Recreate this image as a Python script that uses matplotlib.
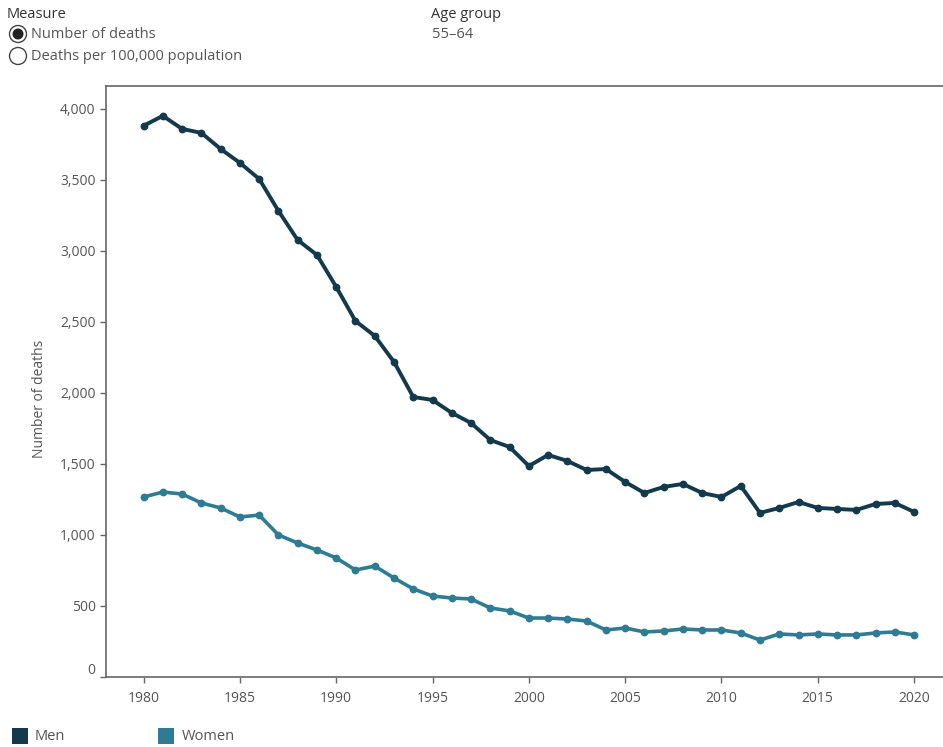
import matplotlib
matplotlib.use("Agg")
import matplotlib.pyplot as plt
import matplotlib.transforms as mtransforms
from matplotlib.patches import Circle, Rectangle
from matplotlib.ticker import FuncFormatter

plt.rcParams['font.family'] = ['Open Sans', 'DejaVu Sans']

years = list(range(1980, 2021))
men = [3880, 3950, 3858, 3830, 3717, 3619, 3506, 3281, 3076, 2971,
       2746, 2506, 2401, 2218, 1971, 1950, 1859, 1788, 1668, 1619,
       1485, 1563, 1521, 1457, 1464, 1373, 1295, 1338, 1359, 1295,
       1267, 1345, 1155, 1190, 1232, 1190, 1183, 1176, 1218, 1225, 1162]
women = [1267, 1302, 1288, 1225, 1190, 1126, 1140, 1000, 943, 894,
         838, 753, 781, 697, 620, 570, 556, 549, 486, 465,
         415, 415, 408, 394, 331, 345, 317, 324, 338, 331,
         331, 310, 260, 303, 296, 303, 296, 296, 310, 317, 296]
y_ticks = [0, 500, 1000, 1500, 2000, 2500, 3000, 3500, 4000]
x_ticks = [1980, 1985, 1990, 1995, 2000, 2005, 2010, 2015, 2020]

men_color = '#123a4c'
women_color = '#2e7c94'
text_color = '#555555'

W, H = 943, 747
fig = plt.figure(figsize=(W / 100, H / 100), dpi=100)
ax = fig.add_axes([106 / W, (H - 677) / H, (W - 106) / W, (677 - 86) / H])

ax.plot(years, men, color=men_color, lw=2.8, marker='o', ms=4.6, zorder=3)
ax.plot(years, women, color=women_color, lw=2.6, marker='o', ms=4.6, zorder=3)

ax.set_xlim(1978.05, 2021.5)
ax.set_ylim(0, 4160)
ax.set_yticks(y_ticks)
ax.set_xticks(x_ticks)
ax.yaxis.set_major_formatter(FuncFormatter(lambda v, p: f"{int(v):,}"))
ax.tick_params(axis='both', colors='#666666', labelcolor=text_color, labelsize=10,
               length=4, width=1)
ax.tick_params(axis='x', pad=6)
for s in ['left', 'bottom', 'top']:
    ax.spines[s].set_color('#666666')
    ax.spines[s].set_linewidth(1.2)
ax.spines['right'].set_visible(False)
ax.set_ylabel('Number of deaths', color=text_color, fontsize=10)
ax.yaxis.set_label_coords(-0.071, 0.47)

# shift the "0" label up, as in the reference
fig.canvas.draw()
zero_lbl = ax.get_yticklabels()[0]
zero_lbl.set_transform(zero_lbl.get_transform() +
                       mtransforms.ScaledTranslation(0, 9 / 100, fig.dpi_scale_trans))

# overlay for controls and legend
ov = fig.add_axes([0, 0, 1, 1], zorder=-1)
ov.set_xlim(0, W)
ov.set_ylim(H, 0)
ov.axis('off')

fs = 10.5
ov.text(7, 15, 'Measure', fontsize=fs, color='#333333', va='center', ha='left')
ov.add_patch(Circle((18, 34), 8.5, facecolor='white', edgecolor='#444444', lw=1))
ov.add_patch(Circle((18, 34), 5.5, facecolor='#222222', edgecolor='none'))
ov.text(31, 34, 'Number of deaths', fontsize=fs, color=text_color, va='center', ha='left')
ov.add_patch(Circle((18, 56), 8.5, facecolor='white', edgecolor='#444444', lw=1))
ov.text(31, 56, 'Deaths per 100,000 population', fontsize=fs, color=text_color,
        va='center', ha='left')

ov.text(431, 15, 'Age group', fontsize=fs, color='#333333', va='center', ha='left')
ov.text(432, 34, '55\u201364', fontsize=fs, color=text_color, va='center', ha='left')

ov.add_patch(Rectangle((12, 728), 16, 16, facecolor=men_color, edgecolor='none'))
ov.text(35, 737, 'Men', fontsize=fs, color=text_color, va='center', ha='left')
ov.add_patch(Rectangle((158, 728), 16, 16, facecolor=women_color, edgecolor='none'))
ov.text(182, 737, 'Women', fontsize=fs, color=text_color, va='center', ha='left')

fig.savefig('out.png', dpi=100, facecolor='white')
